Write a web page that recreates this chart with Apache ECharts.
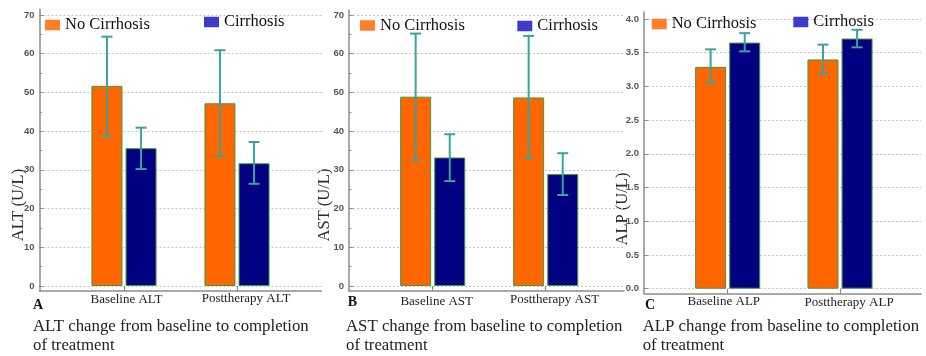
<!DOCTYPE html>
<html><head><meta charset="utf-8">
<script src="https://cdn.jsdelivr.net/npm/echarts@6/dist/echarts.min.js"></script>
<style>html,body{margin:0;padding:0;background:#fff}#c{width:926px;height:356px}</style>
</head><body><div id="c"></div>
<script>
// ---------- data ----------
const seriesNames = ['No Cirrhosis', 'Cirrhosis'];

const altCategories = ['Baseline ALT', 'Posttherapy ALT'];
const altNoCirrhosis = [51.7, 47.2];
const altNoCirrhosisLow = [38.7, 33.6];
const altNoCirrhosisHigh = [64.4, 60.9];
const altCirrhosis = [35.6, 31.7];
const altCirrhosisLow = [30.2, 26.4];
const altCirrhosisHigh = [40.9, 37.2];

const astCategories = ['Baseline AST', 'Posttherapy AST'];
const astNoCirrhosis = [48.9, 48.7];
const astNoCirrhosisLow = [32.5, 33.0];
const astNoCirrhosisHigh = [65.2, 64.6];
const astCirrhosis = [33.2, 28.9];
const astCirrhosisLow = [27.1, 23.5];
const astCirrhosisHigh = [39.2, 34.3];

const alpCategories = ['Baseline ALP', 'Posttherapy ALP'];
const alpNoCirrhosis = [3.29, 3.40];
const alpNoCirrhosisLow = [3.06, 3.19];
const alpNoCirrhosisHigh = [3.55, 3.62];
const alpCirrhosis = [3.65, 3.71];
const alpCirrhosisLow = [3.52, 3.58];
const alpCirrhosisHigh = [3.79, 3.84];

const altAstTicks = [0, 10, 20, 30, 40, 50, 60, 70];
const alpTicks = [0.0, 0.5, 1.0, 1.5, 2.0, 2.5, 3.0, 3.5, 4.0];

const axisNames = ['ALT (U/L)', 'AST (U/L)', 'ALP (U/L)'];
const panelLetters = ['A', 'B', 'C'];
const captions = [
  'ALT change from baseline to completion\nof treatment',
  'AST change from baseline to completion\nof treatment',
  'ALP change from baseline to completion\nof treatment'
];

// ---------- panel definitions (data refs + layout) ----------
const panels = [
  { cats: altCategories, no: altNoCirrhosis, noLo: altNoCirrhosisLow, noHi: altNoCirrhosisHigh,
    ci: altCirrhosis, ciLo: altCirrhosisLow, ciHi: altCirrhosisHigh, ticks: altAstTicks, dec: 0, minor: true,
    axX: 39.5, axR: 321.5, lineTop: 9, top: 15, zero: 286, xLine: 291, cL: 67.5, cR: 293.5,
    nameX: 18.3, nameY: 205, letterX: 33, letterY: 305.7, capX: 33, capY: 317,
    leg: [[45, 15], [204, 12]],
    labB: [2.2, 0, 0, 5], labP: [0.5, 0, 0, 18] },
  { cats: astCategories, no: astNoCirrhosis, noLo: astNoCirrhosisLow, noHi: astNoCirrhosisHigh,
    ci: astCirrhosis, ciLo: astCirrhosisLow, ciHi: astCirrhosisHigh, ticks: altAstTicks, dec: 0, minor: true,
    axX: 349, axR: 624, lineTop: 10, top: 15, zero: 286, xLine: 291, cL: 376.2, cR: 602.2,
    nameX: 325, nameY: 205, letterX: 347.7, letterY: 302.7, capX: 346, capY: 317,
    leg: [[360, 15.5], [517.3, 16]],
    labB: [5.5, 0, 0, 8], labP: [2.2, 0, 0, 17.6] },
  { cats: alpCategories, no: alpNoCirrhosis, noLo: alpNoCirrhosisLow, noHi: alpNoCirrhosisHigh,
    ci: alpCirrhosis, ciLo: alpCirrhosisLow, ciHi: alpCirrhosisHigh, ticks: alpTicks, dec: 1, minor: false,
    axX: 644, axR: 921, lineTop: 12, top: 19, zero: 288.7, xLine: 293.3, cL: 671.5, cR: 896.2,
    nameX: 623, nameY: 209, letterX: 645, letterY: 305, capX: 642.7, capY: 317,
    leg: [[651.7, 14], [793.3, 12]],
    labB: [1.1, 7.8, 0, 0], labP: [2.1, 0, 0, 18] }
];

// ---------- styles ----------
const W = 926, H = 356;
const barColors = ['#ff6600', '#000080'];
const legendColors = ['#ff7f2a', '#3c3ccc'];
const barBorder = '#3f9a3a';
const errColor = '#3aa39b';
const axisGray = '#8c8c8c';
const serif = '"Liberation Serif", "Times New Roman", serif';
const barWidth = 31, barGapRatio = 0.1;
const errOffset = (barWidth + barWidth * barGapRatio) / 2;

function errRender(offset) {
  return function (params, api) {
    const i = api.value(0);
    const lo = api.coord([i, api.value(1)]);
    const hi = api.coord([i, api.value(2)]);
    const x = lo[0] + offset;
    const cap = 5.5;
    const st = { stroke: errColor, lineWidth: 2 };
    return { type: 'group', children: [
      { type: 'line', shape: { x1: x, y1: hi[1], x2: x, y2: lo[1] }, style: st },
      { type: 'line', shape: { x1: x - cap, y1: hi[1], x2: x + cap, y2: hi[1] }, style: st },
      { type: 'line', shape: { x1: x - cap, y1: lo[1], x2: x + cap, y2: lo[1] }, style: st }
    ] };
  };
}

const grid = [], xAxis = [], yAxis = [], series = [], legend = [], graphic = [];

panels.forEach((p, k) => {
  const g0 = grid.length, g2 = g0 + 1, g1 = g0 + 2;
  const tMin = p.ticks[0], tMax = p.ticks[p.ticks.length - 1], tInt = p.ticks[1] - p.ticks[0];
  grid.push({ left: p.axX, width: p.axR - p.axX, top: p.lineTop, height: p.xLine - p.lineTop });
  grid.push({ left: p.axX, width: p.axR - p.axX, top: p.top, height: p.zero - p.top });
  grid.push({ left: p.cL, width: p.cR - p.cL, top: p.top, height: p.zero - p.top });

  xAxis.push({ gridIndex: g0, type: 'value', min: 0, max: 1,
    axisLine: { show: true, lineStyle: { color: axisGray, width: 1.5 } },
    axisTick: { show: false }, axisLabel: { show: false }, splitLine: { show: false } });
  yAxis.push({ gridIndex: g0, type: 'value', min: 0, max: 1,
    axisLine: { show: true, lineStyle: { color: axisGray, width: 1.5 } },
    axisTick: { show: false }, axisLabel: { show: false }, splitLine: { show: false } });

  xAxis.push({ gridIndex: g2, type: 'value', min: 0, max: 1, show: false });
  yAxis.push({ gridIndex: g2, type: 'value', min: tMin, max: tMax, interval: tInt,
    axisLine: { show: false },
    axisTick: { show: true, inside: true, length: 4, lineStyle: { color: axisGray, width: 1 } },
    minorTick: { show: p.minor, splitNumber: 2, length: 2.5, lineStyle: { color: axisGray, width: 1 } },
    splitLine: { show: true, lineStyle: { color: '#c6c6c6', width: 1, type: [2, 2] } },
    axisLabel: { margin: 5, fontSize: 9.5, fontWeight: 'bold', color: '#555', fontFamily: '"Liberation Sans", Arial, sans-serif',
      formatter: v => v.toFixed(p.dec) } });

  xAxis.push({ gridIndex: g1, type: 'category', data: p.cats, boundaryGap: true,
    axisLine: { show: false },
    axisTick: { show: true, alignWithLabel: true, length: 5, lineStyle: { color: axisGray, width: 1.2 } },
    axisLabel: { margin: 6, interval: 0,
      formatter: (v, i) => (i === 0 ? '{b|' : '{p|') + v + '}',
      rich: {
        b: { fontFamily: serif, fontSize: 13, lineHeight: 13, color: '#222', padding: p.labB },
        p: { fontFamily: serif, fontSize: 13, lineHeight: 13, color: '#222', padding: p.labP }
      } } });
  yAxis.push({ gridIndex: g1, type: 'value', min: tMin, max: tMax, interval: tInt, show: false });

  const ax = xAxis.length - 1;
  const dataSets = [[p.no, p.noLo, p.noHi], [p.ci, p.ciLo, p.ciHi]];
  dataSets.forEach((d, s) => {
    series.push({ type: 'bar', name: seriesNames[s], xAxisIndex: ax, yAxisIndex: ax,
      data: d[0], barWidth: barWidth, barGap: (barGapRatio * 100) + '%',
      itemStyle: { color: barColors[s], borderColor: barBorder, borderWidth: 1 }, z: 2 });
  });
  dataSets.forEach((d, s) => {
    series.push({ type: 'custom', name: 'err' + k + s, xAxisIndex: ax, yAxisIndex: ax,
      renderItem: errRender(s === 0 ? -errOffset : errOffset),
      data: p.cats.map((c, i) => [i, d[1][i], d[2][i]]), z: 5 });
  });

  seriesNames.forEach((n, s) => {
    legend.push({ left: p.leg[s][0], top: p.leg[s][1], padding: 0, selectedMode: false,
      itemWidth: 15, itemHeight: 10.5, itemGap: 0,
      data: [{ name: n, icon: 'rect', itemStyle: { color: legendColors[s], borderWidth: 0 } }],
      textStyle: { fontFamily: serif, fontSize: 16.5, lineHeight: 20, color: '#111' } });
  });

  graphic.push({ type: 'text', x: p.nameX, y: p.nameY, rotation: Math.PI / 2,
    style: { text: axisNames[k], fontFamily: serif, fontSize: 16.5, fill: '#2a2a2a', textAlign: 'center', textVerticalAlign: 'middle' } });
  graphic.push({ type: 'text', x: p.letterX, y: p.letterY,
    style: { text: panelLetters[k], fontFamily: serif, fontSize: 14, fontWeight: 'bold', fill: '#111', textAlign: 'left', textVerticalAlign: 'middle' } });
  graphic.push({ type: 'text', x: p.capX, y: p.capY,
    style: { text: captions[k], fontFamily: serif, fontSize: 16.8, lineHeight: 19.3, fill: '#222', textAlign: 'left', textVerticalAlign: 'top' } });
});

const chart = echarts.init(document.getElementById('c'), null, { renderer: 'canvas', width: W, height: H });
chart.setOption({
  animation: false,
  backgroundColor: '#fff',
  grid, xAxis, yAxis, series, legend, graphic
});
</script>
</body></html>
